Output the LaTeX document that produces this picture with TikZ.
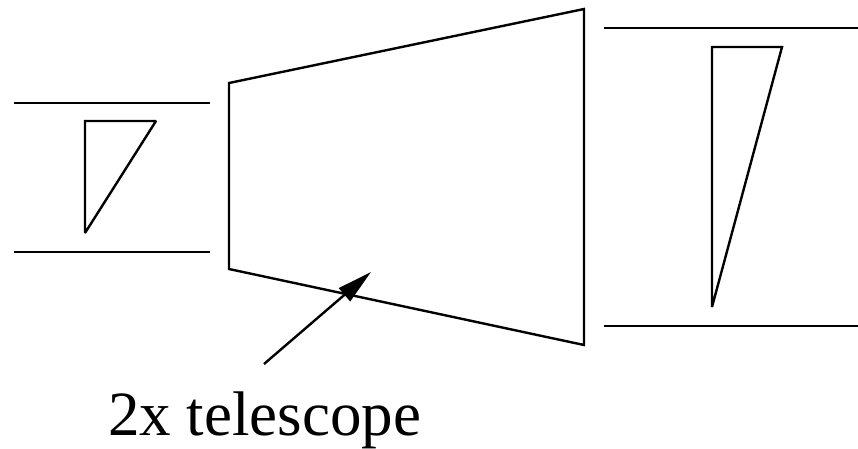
\documentclass[tikz,border=0pt]{standalone}
\usepackage{fontspec}
\setmainfont{Liberation Serif}
\usetikzlibrary{arrows.meta}
\tikzset{
  beam/.style={line width=2.4pt, line cap=butt},
  prism/.style={line width=2.4pt, line join=miter, miter limit=2},
  pointer/.style={line width=2.4pt, -{Triangle[length=35pt,width=17pt]}},
  caption/.style={font=\fontsize{63}{70}\selectfont, anchor=base west, inner sep=0pt}
}
\begin{document}
\begin{tikzpicture}[x=1pt,y=-1pt]
\useasboundingbox (0,0) rectangle (858,448);
% left beam
\coordinate (l1a) at (14,103); \coordinate (l1b) at (210,103);
\coordinate (l2a) at (14,252); \coordinate (l2b) at (210,252);
\draw[beam] (l1a) -- (l1b);
\draw[beam] (l2a) -- (l2b);
% left triangle
\coordinate (lt1) at (85,121); \coordinate (lt2) at (156,121); \coordinate (lt3) at (85,233);
\draw[prism] (lt1) -- (lt2) -- (lt3) -- cycle;
% telescope trapezoid
\coordinate (t1) at (229,83); \coordinate (t2) at (584,9);
\coordinate (t3) at (584,345); \coordinate (t4) at (229,269);
\draw[prism] (t1) -- (t2) -- (t3) -- (t4) -- cycle;
% right beam
\coordinate (r1a) at (604,28); \coordinate (r1b) at (858,28);
\coordinate (r2a) at (604,326); \coordinate (r2b) at (858,326);
\draw[beam] (r1a) -- (r1b);
\draw[beam] (r2a) -- (r2b);
% right triangle
\coordinate (rt1) at (712,47); \coordinate (rt2) at (782,47); \coordinate (rt3) at (712,307);
\draw[prism] (rt1) -- (rt2) -- (rt3) -- cycle;
% label and arrow
\node[caption] (lbl) at (108,435) {2x telescope};
\coordinate (tail) at (264,364);
\coordinate (tip) at (371,272);
\draw[pointer] (tail) -- (tip);
\end{tikzpicture}
\end{document}
